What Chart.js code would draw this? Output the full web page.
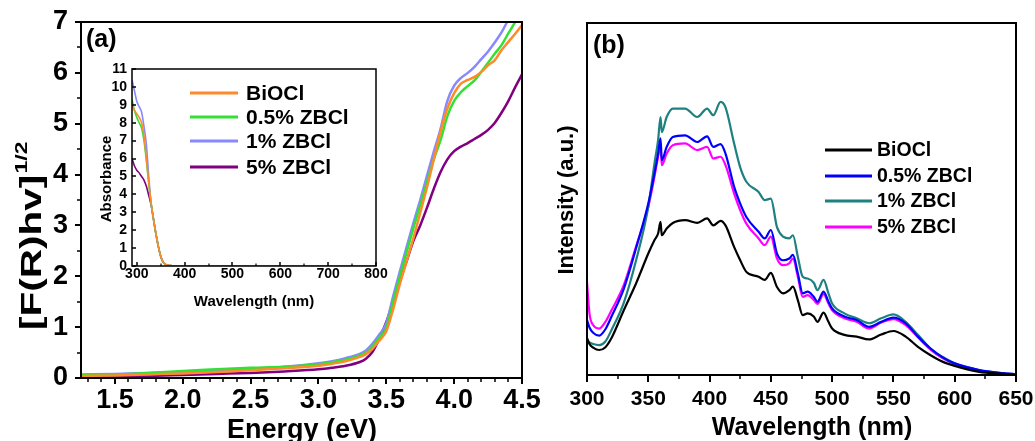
<!DOCTYPE html>
<html><head><meta charset="utf-8">
<script src="https://cdn.jsdelivr.net/npm/chart.js@4.4.1/dist/chart.umd.min.js"></script>
<style>
html,body{margin:0;padding:0;background:#fff;width:1035px;height:441px;overflow:hidden}
canvas{position:absolute}
#ca{left:0;top:0;width:540px;height:441px}
#ci{left:80px;top:50px;width:320px;height:270px}
#cb{left:540px;top:0;width:495px;height:441px}
</style></head><body>
<canvas id="ca" width="540" height="441"></canvas>
<canvas id="ci" width="320" height="270"></canvas>
<canvas id="cb" width="495" height="441"></canvas>
<script>
// ---------- Panel (a): Tauc plot ----------
const aNames = ['BiOCl', '0.5% ZBCl', '1% ZBCl', '5% ZBCl'];
const aEnergy = [1.25,1.5,1.75,2.0,2.25,2.5,2.75,3.0,3.1,3.2,3.3,3.35,3.4,3.45,3.5,3.55,3.6,3.65,3.7,3.75,3.8,3.85,3.9,3.95,4.0,4.05,4.1,4.15,4.2,4.25,4.3,4.35,4.4,4.45,4.5];
const aBiOCl = [0.04,0.05,0.07,0.09,0.12,0.15,0.19,0.24,0.28,0.33,0.41,0.47,0.58,0.74,0.92,1.35,1.85,2.3,2.75,3.25,3.75,4.3,4.85,5.3,5.6,5.79,5.86,5.92,6.02,6.15,6.25,6.45,6.61,6.77,6.94];
const aZ05 = [0.06,0.07,0.10,0.14,0.17,0.20,0.22,0.27,0.31,0.36,0.44,0.50,0.63,0.80,0.98,1.5,2.0,2.48,2.95,3.4,3.85,4.3,4.68,5.15,5.45,5.62,5.74,5.85,6.02,6.2,6.38,6.55,6.78,7.0,7.25];
const aZ1 = [0.07,0.08,0.10,0.12,0.15,0.18,0.22,0.29,0.33,0.39,0.47,0.54,0.68,0.86,1.08,1.6,2.1,2.58,3.05,3.5,3.98,4.45,4.9,5.45,5.75,5.9,6.0,6.12,6.27,6.42,6.6,6.8,7.05,7.3,7.55];
const aZ5 = [0.03,0.03,0.04,0.06,0.08,0.10,0.13,0.17,0.20,0.24,0.31,0.38,0.52,0.78,1.1,1.5,1.9,2.3,2.7,3.0,3.35,3.72,4.05,4.3,4.46,4.55,4.62,4.7,4.78,4.88,5.02,5.22,5.45,5.72,5.97];
const aXTicks = [1.5,2.0,2.5,3.0,3.5,4.0,4.5];
const aYTicks = [0,1,2,3,4,5,6,7];

// ---------- Inset: absorbance ----------
const iWave = [290,295,300,305,310,315,320,325,330,335,340,345,350,355,360,365,370,380,400,500,600,700,800];
const iBiOCl = [9.0,8.7,8.5,8.3,8.0,7.3,6.0,4.7,3.5,2.6,1.8,1.1,0.55,0.22,0.09,0.04,0.02,0.01,0.01,0,0,0,0];
const iZ05 = [9.3,8.7,8.3,8.0,7.7,7.0,5.9,4.6,3.5,2.6,1.8,1.1,0.55,0.22,0.09,0.04,0.02,0.01,0.01,0,0,0,0];
const iZ1 = [10.4,9.8,9.2,8.9,8.6,7.8,6.8,5.0,3.5,2.6,1.8,1.1,0.55,0.22,0.09,0.04,0.02,0.01,0.01,0,0,0,0];
const iZ5 = [6.0,5.6,5.35,5.2,5.0,4.8,4.45,3.95,3.4,2.6,1.8,1.1,0.55,0.22,0.09,0.04,0.02,0.01,0.01,0,0,0,0];
const iXTicks = [300,400,500,600,700,800];
const iYTicks = [0,1,2,3,4,5,6,7,8,9,10,11];

// ---------- Panel (b): PL spectra ----------
const bNames = ['BiOCl', '0.5% ZBCl', '1% ZBCl', '5% ZBCl'];
const bWave = [300,302,305,310,315,320,330,340,350,355,358,360,361,365,370,380,390,398,403,409,413,420,425,430,440,445,450,455,460,465,468,472,476,480,485,488,493,497,500,510,520,530,540,550,560,570,580,590,600,620,640,650];
const bBiOCl = [10.5,8.8,7.8,7.1,7.9,10.5,18.4,26,34.5,38.3,40.2,43.5,39.7,41.6,43.2,44,43.2,44.5,42.5,43.8,42.5,36.4,32.6,29.3,27.9,27,29,25,23.2,24.1,25.1,21.3,17,17.5,16.6,15.1,17.7,15.1,13.2,11.4,10.9,10.1,11.5,12.5,10.9,8,5.7,3.8,2.6,0.9,0.3,0];
const bZ05 = [15.6,13.5,12.0,11.2,13.0,16.6,24.5,36,48.7,57.2,62.9,67.2,61,64.8,67.6,68.1,66.2,67.8,64.8,65.6,62.9,53.5,48.7,44.9,40.7,38.8,41.2,34.5,32.6,33.1,34.1,28.9,23.2,23.7,22.2,20.8,23.7,20.8,18.9,16.6,15.6,13.7,15.1,16.3,14.7,10.9,7.6,5,3.3,1.4,0.5,0.2];
const bZ1 = [10.0,9.3,8.8,8.5,9.5,12.8,20.5,32.5,47.8,60,66.7,73.3,69,73.3,75.7,75.7,73.3,75.7,73.8,77.6,76,65.8,59,54.9,52,49.7,50.1,42,39.3,38.8,39.7,33.6,27.9,27.4,26.2,24.1,27,23.2,20.3,17.5,16.1,14.7,16.1,17.2,15.1,11.4,7.6,5.2,3.3,1.4,0.5,0.2];
const bZ5 = [26.5,17.5,14.2,13.2,15.1,18.4,25.5,36.5,47.8,56.3,62,65.3,59.6,62.9,65.3,65.8,63.9,64.8,61.5,62,59.6,51.6,46.8,43,38.8,36.9,39.3,33.1,31.2,31.7,33.1,27.9,22.2,22.7,21.3,20.2,23,20.3,18.4,16.1,15.1,13.2,14.9,15.9,14.2,10.7,7.3,4.8,3.1,1.2,0.4,0.1];
const bXTicks = [300,350,400,450,500,550,600,650];

const FF = '"Liberation Sans", Arial, sans-serif';
const aColors = ['#FF8A2A', '#33E033', '#8888FF', '#800080'];
const bColors = ['#000000', '#0000FF', '#1F8080', '#FF00FF'];

function pts(xs, ys) { return xs.map((x, i) => ({x: x, y: ys[i]})); }
function setTicks(arr) { return s => { s.ticks = arr.map(v => ({value: v})); }; }
function noPad(s) { s.paddingLeft = 0; s.paddingRight = 0; s.paddingTop = 0; s.paddingBottom = 0; }

function drawTickMarks(ctx, chart, axis, values, len, inward, lw) {
  const ca = chart.chartArea, sc = chart.scales[axis];
  ctx.save(); ctx.strokeStyle = '#000'; ctx.lineWidth = lw; ctx.beginPath();
  values.forEach(v => {
    const p = Math.round(sc.getPixelForValue(v));
    if (axis === 'x') {
      ctx.moveTo(p, ca.bottom); ctx.lineTo(p, inward ? ca.bottom - len : ca.bottom + len);
    } else {
      ctx.moveTo(ca.left, p); ctx.lineTo(inward ? ca.left + len : ca.left - len, p);
    }
  });
  ctx.stroke(); ctx.restore();
}
function range(a, b, step) { const r = []; for (let v = a; v <= b + 1e-9; v += step) r.push(Math.round(v * 1000) / 1000); return r; }
function frame(ctx, ca, lw) {
  ctx.save(); ctx.strokeStyle = '#000'; ctx.lineWidth = lw;
  ctx.strokeRect(ca.left, ca.top, ca.right - ca.left, ca.bottom - ca.top); ctx.restore();
}
function rotText(ctx, text, x, y, font, align) {
  ctx.save(); ctx.translate(x, y); ctx.rotate(-Math.PI / 2);
  ctx.font = font; ctx.fillStyle = '#000'; ctx.textAlign = align || 'center'; ctx.textBaseline = 'alphabetic';
  ctx.fillText(text, 0, 0); ctx.restore();
}
function legend(ctx, chart, x0, x1, tx, ys, font, lw) {
  ctx.save(); ctx.font = font; ctx.textBaseline = 'middle'; ctx.textAlign = 'left';
  chart.data.datasets.forEach((d, i) => {
    ctx.strokeStyle = d.borderColor; ctx.lineWidth = lw; ctx.beginPath();
    ctx.moveTo(x0, ys[i]); ctx.lineTo(x1, ys[i]); ctx.stroke();
    ctx.fillStyle = '#000'; ctx.fillText(d.label, tx, ys[i] + 1);
  });
  ctx.restore();
}

Chart.defaults.animation = false;
Chart.defaults.font.family = FF;

function lineSets(names, xs, series, colors, width, tension) {
  return series.map((s, i) => ({
    label: names[i], data: pts(xs, s), borderColor: colors[i], backgroundColor: colors[i],
    borderWidth: width, pointRadius: 0, tension: tension, cubicInterpolationMode: 'monotone', fill: false
  }));
}
function tickFont(size) { return {family: FF, size: size, weight: 'bold', lineHeight: 1}; }

// Panel (a)
new Chart(document.getElementById('ca'), {
  type: 'line',
  data: {datasets: lineSets(aNames, aEnergy, [aBiOCl, aZ05, aZ1, aZ5], aColors, 2.5, 0.4)},
  options: {
    responsive: false, animation: false,
    layout: {padding: {left: 0, top: 22, right: 18, bottom: 0}},
    plugins: {legend: {display: false}, tooltip: {enabled: false}},
    scales: {
      x: {type: 'linear', min: 1.25, max: 4.5, afterBuildTicks: setTicks(aXTicks),
        afterFit: s => { s.height = 63; noPad(s); }, grid: {display: false, drawTicks: false}, border: {display: false},
        ticks: {padding: 9, color: '#000', font: tickFont(27), autoSkip: false, maxRotation: 0, callback: v => Number(v).toFixed(1)}},
      y: {type: 'linear', min: 0, max: 7, afterBuildTicks: setTicks(aYTicks),
        afterFit: s => { s.width = 81; noPad(s); }, grid: {display: false, drawTicks: false}, border: {display: false},
        ticks: {padding: 13, color: '#000', font: tickFont(27), autoSkip: false}}
    }
  },
  plugins: [{id: 'decoA', afterDraw(chart) {
    const ctx = chart.ctx, ca = chart.chartArea;
    frame(ctx, ca, 2);
    drawTickMarks(ctx, chart, 'x', aXTicks, 6, false, 2);
    drawTickMarks(ctx, chart, 'x', range(1.3, 4.4, 0.1).filter(v => Math.abs(v * 2 - Math.round(v * 2)) > 1e-6), 4, false, 1.5);
    drawTickMarks(ctx, chart, 'y', aYTicks, 6, false, 2);
    drawTickMarks(ctx, chart, 'y', range(0.5, 6.5, 1), 4, false, 1.5);
    ctx.save(); ctx.fillStyle = '#000';
    ctx.font = 'bold 25px ' + FF; ctx.textBaseline = 'middle'; ctx.textAlign = 'left';
    ctx.fillText('(a)', 86, 40);
    ctx.font = 'bold 27px ' + FF; ctx.textAlign = 'center'; ctx.textBaseline = 'alphabetic';
    ctx.fillText('Energy (eV)', 302, 438);
    ctx.restore();
    // y title with superscript (glyphs elongated along the text direction as in the figure)
    ctx.save(); ctx.translate(41, 330); ctx.rotate(-Math.PI / 2); ctx.scale(1.35, 1);
    ctx.fillStyle = '#000'; ctx.textAlign = 'left'; ctx.textBaseline = 'alphabetic';
    ctx.font = 'bold 30px ' + FF; const t = '[F(R)hv]'; ctx.fillText(t, 0, 0);
    const w = ctx.measureText(t).width;
    ctx.font = 'bold 17px ' + FF; ctx.fillText('1/2', w + 1, -14);
    ctx.restore();
  }}]
});

// Inset
new Chart(document.getElementById('ci'), {
  type: 'line',
  data: {datasets: lineSets(aNames, iWave, [iBiOCl, iZ05, iZ1, iZ5], aColors, 1.6, 0.3)},
  options: {
    responsive: false, animation: false,
    layout: {padding: {left: 0, top: 19, right: 24, bottom: 0}},
    plugins: {legend: {display: false}, tooltip: {enabled: false}},
    scales: {
      x: {type: 'linear', min: 290, max: 800, afterBuildTicks: setTicks(iXTicks),
        afterFit: s => { s.height = 54; noPad(s); }, grid: {display: false, drawTicks: false}, border: {display: false},
        ticks: {padding: 1, color: '#000', font: tickFont(14), autoSkip: false, maxRotation: 0}},
      y: {type: 'linear', min: 0, max: 11, afterBuildTicks: setTicks(iYTicks),
        afterFit: s => { s.width = 52; noPad(s); }, grid: {display: false, drawTicks: false}, border: {display: false},
        ticks: {padding: 5, color: '#000', font: tickFont(14), autoSkip: false}}
    }
  },
  plugins: [{id: 'decoI', beforeDatasetsDraw(chart) {
    const ctx = chart.ctx, ca = chart.chartArea;
    ctx.save(); ctx.fillStyle = '#fff'; ctx.fillRect(ca.left, ca.top, ca.right - ca.left, ca.bottom - ca.top); ctx.restore();
  }, afterDraw(chart) {
    const ctx = chart.ctx, ca = chart.chartArea;
    frame(ctx, ca, 1.5);
    drawTickMarks(ctx, chart, 'x', iXTicks, 4, true, 1.5);
    drawTickMarks(ctx, chart, 'x', range(350, 750, 100), 2.5, true, 1.2);
    drawTickMarks(ctx, chart, 'y', iYTicks, 4, true, 1.5);
    ctx.save(); ctx.fillStyle = '#000'; ctx.font = 'bold 15px ' + FF; ctx.textAlign = 'center'; ctx.textBaseline = 'alphabetic';
    ctx.fillText('Wavelength (nm)', 174, 256); ctx.restore();
    rotText(ctx, 'Absorbance', 31, 129, 'bold 15px ' + FF);
    legend(ctx, chart, 110, 158, 166, [43, 67, 91, 117], 'bold 21px ' + FF, 3);
  }}]
});

// Panel (b)
new Chart(document.getElementById('cb'), {
  type: 'line',
  data: {datasets: lineSets(bNames, bWave, [bBiOCl, bZ05, bZ1, bZ5], bColors, 2.2, 0.15)},
  options: {
    responsive: false, animation: false,
    layout: {padding: {left: 0, top: 23, right: 19, bottom: 0}},
    plugins: {legend: {display: false}, tooltip: {enabled: false}},
    scales: {
      x: {type: 'linear', min: 300, max: 650, afterBuildTicks: setTicks(bXTicks),
        afterFit: s => { s.height = 66; noPad(s); }, grid: {display: false, drawTicks: false}, border: {display: false},
        ticks: {padding: 14, color: '#000', font: tickFont(21), autoSkip: false, maxRotation: 0}},
      y: {type: 'linear', min: 0, max: 100, afterFit: s => { s.width = 47; noPad(s); },
        grid: {display: false, drawTicks: false}, border: {display: false}, ticks: {display: false}}
    }
  },
  plugins: [{id: 'decoB', afterDraw(chart) {
    const ctx = chart.ctx, ca = chart.chartArea;
    frame(ctx, ca, 2);
    drawTickMarks(ctx, chart, 'x', bXTicks, 7, false, 2);
    drawTickMarks(ctx, chart, 'x', range(325, 625, 50), 4, false, 1.5);
    ctx.save(); ctx.fillStyle = '#000';
    ctx.font = 'bold 25px ' + FF; ctx.textBaseline = 'middle'; ctx.textAlign = 'left';
    ctx.fillText('(b)', 53, 46);
    ctx.font = 'bold 25px ' + FF; ctx.textAlign = 'center'; ctx.textBaseline = 'alphabetic';
    ctx.fillText('Wavelength (nm)', 272, 435);
    ctx.restore();
    rotText(ctx, 'Intensity (a.u.)', 33, 200, 'bold 22px ' + FF);
    legend(ctx, chart, 285, 332, 337, [150, 176, 201, 227], 'bold 19.5px ' + FF, 3);
  }}]
});
</script>
</body></html>
